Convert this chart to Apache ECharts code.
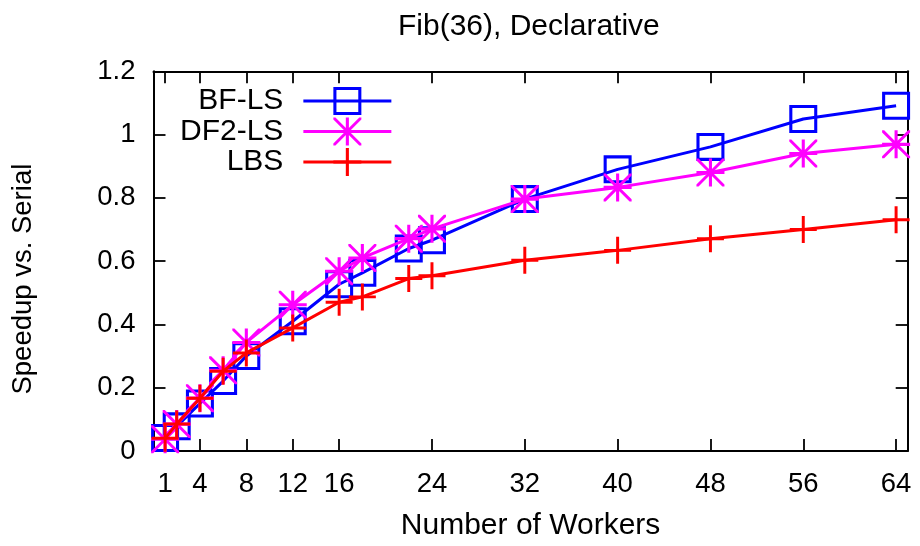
<!DOCTYPE html>
<html>
<head>
<meta charset="utf-8">
<script src="https://cdn.jsdelivr.net/npm/echarts@6/dist/echarts.min.js"></script>
<style>html,body{margin:0;padding:0;background:#fff;}#c{width:920px;height:546px;}</style>
</head>
<body>
<div id="c"></div>
<script>
var titleText = 'Fib(36), Declarative';
var xName = 'Number of Workers';
var yName = 'Speedup vs. Serial';
var workers = [1, 2, 4, 6, 8, 12, 16, 18, 22, 24, 32, 40, 48, 56, 64];
var xTicks = [1, 4, 8, 12, 16, 24, 32, 40, 48, 56, 64];
var seriesNames = ['BF-LS', 'DF2-LS', 'LBS'];
var bfls = [0.041, 0.078, 0.15, 0.221, 0.30, 0.41, 0.527, 0.563, 0.64, 0.666, 0.796, 0.89, 0.961, 1.049, 1.091];
var df2ls = [0.037, 0.085, 0.167, 0.255, 0.343, 0.462, 0.568, 0.61, 0.671, 0.702, 0.796, 0.833, 0.88, 0.94, 0.969];
var lbs = [0.04, 0.085, 0.167, 0.252, 0.31, 0.389, 0.47, 0.487, 0.545, 0.554, 0.603, 0.634, 0.671, 0.70, 0.731];

var FONT = '"Liberation Sans", Arial, Helvetica, sans-serif';
var symSquare = 'path://M0 0H100V100H0Z M11 11V89H89V11Z';
var symPlus = 'path://M0 44.5H100V55.5H0Z M44.5 0H55.5V100H44.5Z';
var symStar = 'path://M0 44.5H100V55.5H0Z M44.5 0H55.5V100H44.5Z M0 0L7.4 0L100 92.6L100 100L92.6 100L0 7.4Z M100 0L100 7.4L7.4 100L0 100L0 92.6L92.6 0Z';

function pairs(xs, ys) { return xs.map(function (x, i) { return [x, ys[i]]; }); }

var chart = echarts.init(document.getElementById('c'), null, {renderer: 'canvas'});
var axisLineStyle = {color: '#000', width: 2};
var tickStyle = {color: '#000', width: 1.8};
chart.setOption({
  animation: false,
  backgroundColor: '#fff',
  title: {
    text: titleText,
    left: 398,
    top: 12,
    padding: 0,
    textStyle: {fontFamily: FONT, fontSize: 30, fontWeight: 'normal', color: '#000', lineHeight: 30}
  },
  legend: {
    orient: 'vertical',
    left: 180,
    top: 86,
    padding: 0,
    align: 'right',
    itemWidth: 88,
    itemHeight: 35,
    itemGap: 0.5,
    lineStyle: {width: 3},
    textStyle: {fontFamily: FONT, fontSize: 30, color: '#000', lineHeight: 30, padding: [0, 15, 0, 0]},
    data: seriesNames
  },
  grid: {left: 153.5, right: 12.3, top: 71.25, bottom: 92.25, containLabel: false},
  xAxis: [{
    type: 'value', min: 0, max: 65, position: 'bottom',
    name: xName, nameLocation: 'middle', nameGap: 60,
    nameTextStyle: {fontFamily: FONT, fontSize: 30, color: '#000', lineHeight: 30},
    axisLine: {show: true, onZero: false, lineStyle: axisLineStyle},
    axisTick: {show: true, inside: true, length: 12, lineStyle: tickStyle, customValues: xTicks},
    axisLabel: {show: true, margin: 20, fontFamily: FONT, fontSize: 27.5, color: '#000', lineHeight: 27.5, customValues: xTicks},
    splitLine: {show: false}
  }, {
    type: 'value', min: 0, max: 65, position: 'top',
    axisLine: {show: true, onZero: false, lineStyle: axisLineStyle},
    axisTick: {show: true, inside: true, length: 12, lineStyle: tickStyle, customValues: xTicks},
    axisLabel: {show: false},
    splitLine: {show: false}
  }],
  yAxis: [{
    type: 'value', min: 0, max: 1.2, interval: 0.2, position: 'left',
    name: yName, nameLocation: 'middle', nameGap: 116,
    nameTextStyle: {fontFamily: FONT, fontSize: 27.5, color: '#000', lineHeight: 27.5, padding: [0, 36, 0, 0]},
    axisLine: {show: true, onZero: false, lineStyle: axisLineStyle},
    axisTick: {show: true, inside: true, length: 12, lineStyle: tickStyle},
    axisLabel: {show: true, margin: 18, fontFamily: FONT, fontSize: 27.5, color: '#000'},
    splitLine: {show: false}
  }, {
    type: 'value', min: 0, max: 1.2, interval: 0.2, position: 'right',
    axisLine: {show: true, onZero: false, lineStyle: axisLineStyle},
    axisTick: {show: true, inside: true, length: 12, lineStyle: tickStyle},
    axisLabel: {show: false},
    splitLine: {show: false}
  }],
  series: [{
    name: seriesNames[0], type: 'line', xAxisIndex: 0, yAxisIndex: 0,
    data: pairs(workers, bfls),
    symbol: symSquare, symbolSize: 28,
    lineStyle: {color: '#0000ff', width: 3},
    itemStyle: {color: '#0000ff'},
    z: 2
  }, {
    name: seriesNames[1], type: 'line', xAxisIndex: 0, yAxisIndex: 0,
    data: pairs(workers, df2ls),
    symbol: symStar, symbolSize: 28,
    lineStyle: {color: '#ff00ff', width: 3},
    itemStyle: {color: '#ff00ff'},
    z: 3
  }, {
    name: seriesNames[2], type: 'line', xAxisIndex: 0, yAxisIndex: 0,
    data: pairs(workers, lbs),
    symbol: symPlus, symbolSize: 27,
    lineStyle: {color: '#ff0000', width: 3},
    itemStyle: {color: '#ff0000'},
    z: 4
  }]
});
</script>
</body>
</html>
